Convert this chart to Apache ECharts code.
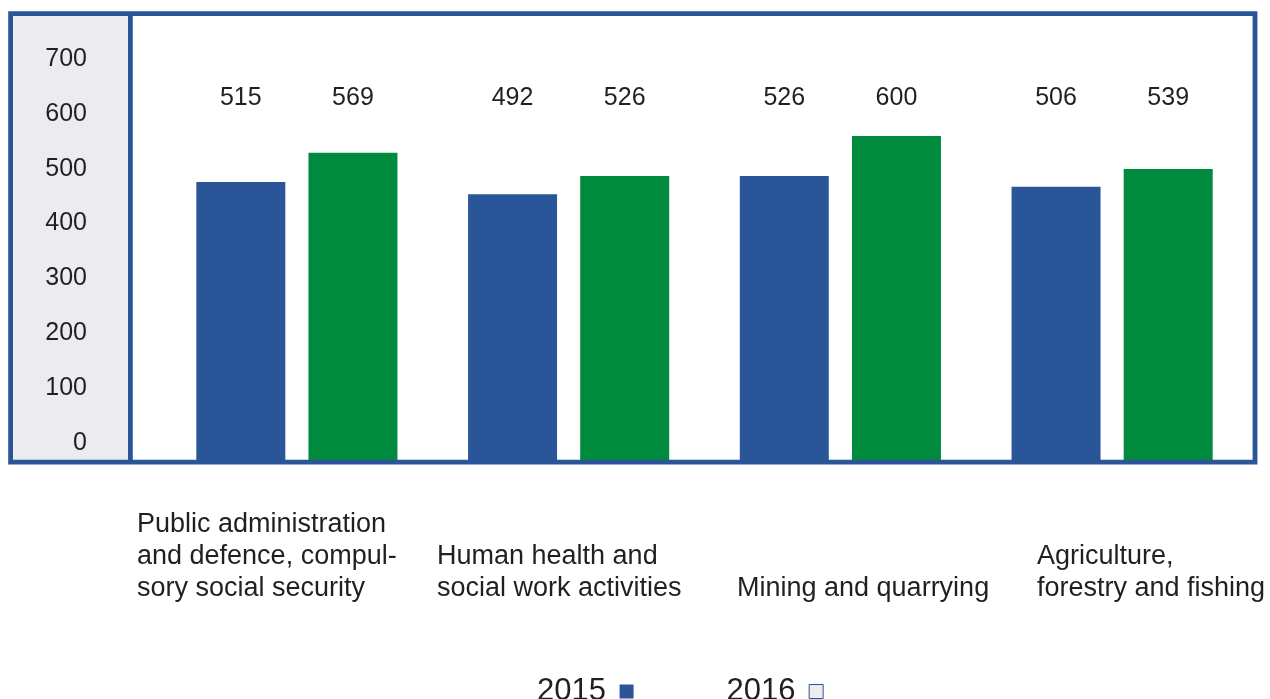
<!DOCTYPE html>
<html>
<head>
<meta charset="utf-8">
<script src="https://cdn.jsdelivr.net/npm/echarts@6/dist/echarts.min.js"></script>
<style>
html,body{margin:0;padding:0;background:#fff;}
#chart{width:1270px;height:699px;}
</style>
</head>
<body>
<div id="chart"></div>
<script>
const categories = [
  "Public administration\nand defence, compul-\nsory social security",
  "Human health and\nsocial work activities",
  "Mining and quarrying",
  "Agriculture,\nforestry and fishing"
];
const seriesNames = ["2015", "2016"];
const values2015 = [515, 492, 526, 506];
const values2016 = [569, 526, 600, 539];
const axisMin = 0, axisMax = 700, axisStep = 100;

const BLUE = '#2a5699', GREEN = '#008a3e', PANEL = '#ecebf0', TEXT = '#231f20';
const FONT = '"Liberation Sans", Arial, Helvetica, sans-serif';

const chart = echarts.init(document.getElementById('chart'), null, {renderer: 'canvas'});

function helper(vals) { return vals.map(v => axisMax - v); }
function valueLabel(vals) {
  return {
    show: true, position: 'insideTop', distance: 4,
    color: TEXT, fontSize: 25, fontFamily: FONT,
    formatter: p => String(vals[p.dataIndex])
  };
}

chart.setOption({
  animation: false,
  textStyle: {fontFamily: FONT},
  graphic: [
    {type: 'rect', z: -10, silent: true, shape: {x: 13, y: 16, width: 116, height: 444}, style: {fill: PANEL}},
    {type: 'rect', z: 10, silent: true, shape: {x: 10.6, y: 13.6, width: 1244.4, height: 448.6}, style: {fill: 'none', stroke: BLUE, lineWidth: 4.8}},
    {type: 'line', z: 10, silent: true, shape: {x1: 130.4, y1: 13, x2: 130.4, y2: 462}, style: {stroke: BLUE, lineWidth: 4.8}}
  ],
  legend: {
    left: 532, top: 671,
    align: 'right',
    itemGap: 93,
    itemWidth: 14, itemHeight: 14,
    icon: 'rect',
    selectedMode: false,
    formatter: n => n + ' ',
    textStyle: {fontSize: 31, color: TEXT, fontFamily: FONT},
    data: [
      {name: seriesNames[0], itemStyle: {color: BLUE}},
      {name: seriesNames[1], itemStyle: {color: PANEL, borderColor: BLUE, borderWidth: 1}}
    ]
  },
  grid: [
    {left: 161, right: 22, top: 82, bottom: 239},
    {left: 95, width: 10, top: 59, bottom: 256},
    {left: 137, right: 233, top: 100, bottom: 139}
  ],
  xAxis: [
    {type: 'category', gridIndex: 0, data: categories, show: false},
    {type: 'value', gridIndex: 1, show: false},
    {type: 'category', gridIndex: 2, data: categories, boundaryGap: false,
     axisLine: {show: false}, axisTick: {show: false},
     axisLabel: {interval: 0, align: 'left', verticalAlign: 'bottom', margin: 45,
                 fontSize: 27, lineHeight: 32, color: TEXT, fontFamily: FONT}}
  ],
  yAxis: [
    {type: 'value', gridIndex: 0, min: axisMin, max: axisMax, show: false},
    {type: 'value', gridIndex: 1, min: axisMin, max: axisMax, interval: axisStep,
     axisLine: {show: false}, axisTick: {show: false}, splitLine: {show: false},
     axisLabel: {margin: 8, fontSize: 25, color: TEXT, fontFamily: FONT}},
    {type: 'value', gridIndex: 2, show: false}
  ],
  series: [
    {name: seriesNames[0], type: 'bar', stack: 'a', xAxisIndex: 0, yAxisIndex: 0,
     data: values2015, barWidth: 89, barGap: '26%', itemStyle: {color: BLUE}},
    {name: 'h2015', type: 'bar', stack: 'a', xAxisIndex: 0, yAxisIndex: 0,
     data: helper(values2015), barWidth: 89, barGap: '26%',
     itemStyle: {color: 'rgba(0,0,0,0)'}, label: valueLabel(values2015), silent: true},
    {name: seriesNames[1], type: 'bar', stack: 'b', xAxisIndex: 0, yAxisIndex: 0,
     data: values2016, barWidth: 89, barGap: '26%', itemStyle: {color: GREEN}},
    {name: 'h2016', type: 'bar', stack: 'b', xAxisIndex: 0, yAxisIndex: 0,
     data: helper(values2016), barWidth: 89, barGap: '26%',
     itemStyle: {color: 'rgba(0,0,0,0)'}, label: valueLabel(values2016), silent: true},
    {type: 'line', xAxisIndex: 1, yAxisIndex: 1, data: [], silent: true},
    {type: 'line', xAxisIndex: 2, yAxisIndex: 2, data: [], silent: true}
  ]
});
</script>
</body>
</html>
